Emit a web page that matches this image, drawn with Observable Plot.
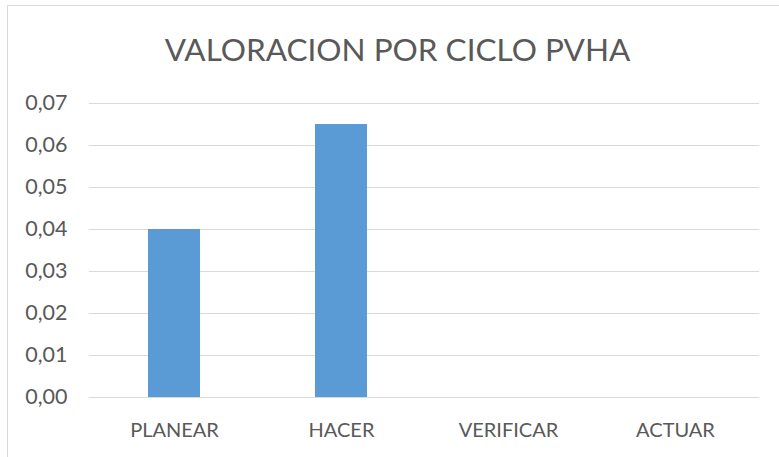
<!DOCTYPE html>
<html>
<head>
<meta charset="utf-8">
<script src="https://cdn.jsdelivr.net/npm/d3@7"></script>
<script src="https://cdn.jsdelivr.net/npm/@observablehq/plot@0.6"></script>
<style>
  html, body { margin: 0; padding: 0; background: #fff; overflow: hidden; }
  #wrap { position: relative; width: 779px; height: 457px; overflow: hidden; }
  #frame { position: absolute; left: 7px; top: 5px; width: 820px; height: 520px; border: 1px solid #d9d9d9; box-sizing: border-box; }
  #title { position: absolute; left: 8px; top: 0; width: 779px; height: 80px; text-align: center;
           font-family: Lato, sans-serif; font-size: 31.5px; color: #595959; line-height: 98px; }
  #chart { position: absolute; left: 0; top: 80px; }
</style>
</head>
<body>
<div id="wrap">
  <div id="frame"></div>
  <div id="title">VALORACION POR CICLO PVHA</div>
  <div id="chart"></div>
</div>
<script>
const categories = ["PLANEAR", "HACER", "VERIFICAR", "ACTUAR"];
const values = [0.04, 0.065, 0, 0];
const yTicks = [0, 0.01, 0.02, 0.03, 0.04, 0.05, 0.06, 0.07];

const data = categories.map((c, i) => ({category: c, value: values[i]}));
const fmt = d => d.toFixed(2).replace(".", ",");

const chart = Plot.plot({
  width: 779,
  height: 377,
  marginLeft: 89,
  marginRight: 20,
  marginTop: 23,
  marginBottom: 60,
  style: {fontFamily: "Lato, sans-serif", color: "#595959", background: "transparent", overflow: "visible"},
  x: {domain: categories, paddingInner: 0.69, paddingOuter: 0.345, label: null},
  y: {domain: [0, 0.07], label: null},
  marks: [
    Plot.ruleY(yTicks, {stroke: "#d9d9d9", strokeWidth: 1, strokeOpacity: 1}),
    Plot.barY(data, {x: "category", y: "value", fill: "#5b9bd5"}),
    Plot.axisY({ticks: yTicks, tickFormat: fmt, tickSize: 0, tickPadding: 22, fontSize: 21.5, label: null, fill: "#595959"}),
    Plot.axisX({tickSize: 0, tickPadding: 25, fontSize: 20, label: null, fill: "#595959"})
  ]
});
document.getElementById("chart").appendChild(chart);
</script>
</body>
</html>
